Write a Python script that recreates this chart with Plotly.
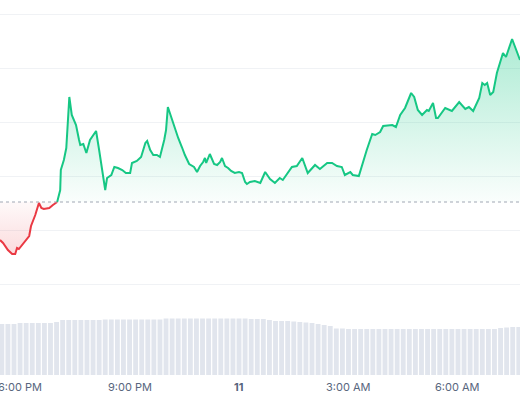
import plotly.graph_objects as go
from datetime import datetime, timedelta

start = datetime(2024, 3, 10, 18, 0)
baseline_price = 100.0

red_minutes = [-33, -28, -20, -13, -8, -5, -2, 3, 10, 15, 18, 25, 31, 35, 39, 48, 54, 61]
red_prices = [98.10, 97.95, 97.60, 97.40, 97.40, 97.70, 97.65, 97.85, 98.15, 98.30, 98.80, 99.35,
              99.95, 99.70, 99.65, 99.70, 99.85, 100.00]

green_minutes = [61, 66, 67, 72, 76, 81, 85, 92, 97, 99, 104, 109, 115, 120, 125, 130, 135, 140, 143,
                 150, 155, 161, 168, 174, 181, 184, 192, 199, 206, 209, 214, 219, 225, 230, 237, 240,
                 243, 250, 255, 260, 266, 271, 278, 281, 286, 291, 296, 301, 304, 306, 312, 319, 324,
                 329, 332, 337, 342, 347, 353, 360, 365, 370, 373, 378, 386, 395, 403, 411, 419, 427,
                 432, 447, 455, 464, 473, 485, 493, 505, 513, 521, 529, 534, 543, 547, 557, 570, 579,
                 584, 592, 597, 612, 618, 625, 633, 643, 648, 654, 661, 669, 672, 679, 684, 687, 699,
                 710, 722, 732, 738, 745, 755, 760, 764, 768, 773, 778, 784, 794, 799, 809, 822]
green_prices = [100.00, 100.60, 101.60, 102.10, 102.70, 105.25, 104.35, 103.85, 103.10, 102.85, 102.90,
                102.45, 103.10, 103.30, 103.55, 102.60, 101.60, 100.60, 101.20, 101.35, 101.75, 101.70,
                101.60, 101.45, 101.45, 101.95, 102.05, 102.25, 102.95, 103.05, 102.60, 102.35, 102.35,
                102.25, 103.10, 103.60, 104.75, 104.10, 103.60, 103.20, 102.75, 102.35, 101.90, 101.85,
                101.75, 101.50, 101.80, 102.00, 102.20, 101.95, 102.40, 101.90, 101.85, 102.00, 102.20,
                101.80, 101.70, 101.55, 101.45, 101.50, 101.45, 101.00, 100.90, 101.00, 101.05, 100.95,
                101.50, 101.15, 100.95, 101.20, 101.10, 101.75, 101.80, 102.20, 101.45, 101.85, 101.65,
                101.95, 101.95, 101.80, 101.75, 101.35, 101.50, 101.35, 101.30, 102.60, 103.40, 103.35,
                103.50, 103.80, 103.85, 103.75, 104.35, 104.70, 105.45, 105.25, 104.60, 104.35, 104.60,
                104.55, 104.95, 104.20, 104.20, 104.70, 104.55, 105.00, 104.65, 104.75, 104.55, 105.20,
                105.95, 105.85, 105.95, 105.35, 105.50, 106.45, 107.45, 107.25, 108.15, 107.10]

volume_minutes = list(range(-30, 830, 10))
volume_values = [51, 51, 51,
                 52, 52, 52, 52, 52, 52, 53,
                 55, 55, 55, 55, 55, 55, 55,
                 55.5, 55.5, 55.5, 55.5, 55.5, 55.5, 55.5, 55.5, 55.5, 55.5,
                 56.5, 56.5, 56.5, 56.5, 56.5, 56.5, 56.5, 56.5, 56.5, 56.5, 56.5, 56.5, 56.5, 56.5,
                 56, 56, 56,
                 55, 54, 54, 54, 53.5, 53,
                 52.5, 52, 51, 50, 49,
                 46.5, 46.5, 46, 46, 46, 46, 46, 46, 46, 46, 46, 46, 46, 46, 46, 46, 46, 46, 46,
                 46, 46, 46, 46, 46, 46, 46, 46, 47, 47.5, 48, 48]

tick_minutes = [0, 180, 360, 540, 720]
tick_labels = ["6:00 PM", "9:00 PM", "<b>11</b>", "3:00 AM", "6:00 AM"]
grid_prices = [95.9, 98.6, 101.3, 104.0, 106.7, 109.4]

t = lambda ms: [start + timedelta(minutes=m) for m in ms]

fig = go.Figure()
fig.add_trace(go.Bar(x=t(volume_minutes), y=volume_values, yaxis="y2",
                     marker=dict(color="#e1e5ed", line=dict(width=0)), showlegend=False))
fig.add_trace(go.Scatter(x=t(red_minutes), y=[baseline_price] * len(red_minutes), mode="lines",
                         line=dict(width=0), showlegend=False, hoverinfo="skip"))
fig.add_trace(go.Scatter(x=t(red_minutes), y=red_prices, mode="lines", fill="tonexty",
                         fillgradient=dict(type="vertical",
                                           colorscale=[[0, "rgba(234,57,67,0.18)"], [1, "rgba(234,57,67,0.03)"]]),
                         line=dict(color="#ea3943", width=2), showlegend=False))
fig.add_trace(go.Scatter(x=t(green_minutes), y=[baseline_price] * len(green_minutes), mode="lines",
                         line=dict(width=0), showlegend=False, hoverinfo="skip"))
fig.add_trace(go.Scatter(x=t(green_minutes), y=green_prices, mode="lines", fill="tonexty",
                         fillgradient=dict(type="vertical",
                                           colorscale=[[0, "rgba(22,199,132,0.02)"], [1, "rgba(22,199,132,0.35)"]]),
                         line=dict(color="#16c784", width=2), showlegend=False))

fig.add_hline(y=baseline_price, line=dict(color="#a0a7b4", width=1, dash="dot"))

for m, lab in zip(tick_minutes, tick_labels):
    fig.add_annotation(x=start + timedelta(minutes=m), xref="x", y=0, yref="paper",
                       yanchor="top", yshift=-3, text=lab, showarrow=False,
                       font=dict(family="Inter", size=11, color="#58667e"))

fig.update_layout(
    width=520, height=400, margin=dict(l=0, r=0, t=0, b=25, autoexpand=False),
    paper_bgcolor="white", plot_bgcolor="white", bargap=0.2,
    font=dict(family="Inter", size=11, color="#58667e"),
    xaxis=dict(range=[start + timedelta(minutes=-33), start + timedelta(minutes=822)],
               showticklabels=False, showgrid=False,
               showline=False, zeroline=False, ticks="", automargin=False),
    yaxis=dict(range=[91.35, 110.1], tickvals=grid_prices, showticklabels=False,
               gridcolor="#f0f2f5", zeroline=False, automargin=False),
    yaxis2=dict(range=[0, 375], overlaying="y", visible=False),
)
fig.write_html("out.html", config={"displayModeBar": False},
               post_script="document.body.style.margin='0';document.body.style.overflow='hidden';")
